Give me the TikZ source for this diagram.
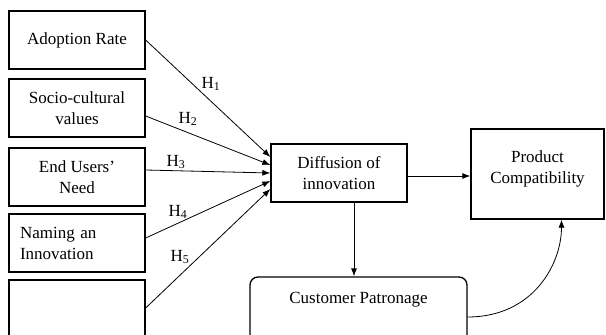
\documentclass[tikz,border=0pt]{standalone}
\usepackage{fontspec}
\setmainfont{Liberation Serif}
\usetikzlibrary{arrows.meta, calc}

\tikzset{
  box/.style={draw, line width=1.3pt, minimum width=136pt, minimum height=58pt, align=center, inner sep=2pt},
  link/.style={line width=0.8pt, -{Latex[length=8pt,width=6pt]}},
  hyp/.style={inner sep=0pt}
}

\begin{document}
\begin{tikzpicture}[x=1pt, y=-1pt, font=\fontsize{17}{21}\selectfont]
\useasboundingbox (0,0) rectangle (606,335);
\clip (0,0) rectangle (606,335);
% factors on the left
\node[box] (adopt) at (77,40) {Adoption Rate};
\node[box] (socio) at (77,108) {Socio-cultural\\values};
\node[box] (need) at (77,177) {End Users'\\Need};
\node[box, text width=114pt, align=left] (naming) at (77,243) {Naming an\\Innovation};
\node[box, minimum height=70pt] (blank) at (77,315) {};
% middle and right
\node[box] (diff) at (339,173) {Diffusion of\\innovation};
\node[box, minimum width=133pt, minimum height=90pt] (prod) at (537.5,174) {};
\node[align=center] (prodtxt) at (537.5,169) {Product\\Compatibility};
\node[box, rounded corners=8pt, minimum width=217pt, minimum height=80pt] (cust) at (358.5,317) {};
\node (custtxt) at (358.5,300) {Customer Patronage};
% hypotheses
\draw[link] (adopt.east) -- ($(diff.west)+(0,-16)$);
\draw[link] ($(socio.east)+(0,8)$) -- ($(diff.west)+(0,-8)$);
\draw[link] ($(need.east)+(0,-7)$) -- (diff.west);
\draw[link] ($(naming.east)+(0,-5)$) -- ($(diff.west)+(0,8)$);
\draw[link] ($(blank.east)+(0,-7)$) -- ($(diff.west)+(0,16)$);
\node[hyp] (h1) at (211,84) {H\textsubscript{1}};
\node[hyp] (h2) at (188,119) {H\textsubscript{2}};
\node[hyp] (h3) at (176,162) {H\textsubscript{3}};
\node[hyp] (h4) at (178,212) {H\textsubscript{4}};
\node[hyp] (h5) at (180,257) {H\textsubscript{5}};
% outcomes
\draw[link] ($(diff.east)+(0,3)$) coordinate (de) -- (de -| prod.west);
\draw[link] ($(diff.south)+(15,0)$) coordinate (ds) -- (ds |- cust.north);
\coordinate (pc) at ($(prod.south)+(24,0)$);
\draw[link] (cust.east) .. controls ($(cust.east)+(65,0)$) and ($(pc)+(0,45)$) .. (pc);
\end{tikzpicture}
\end{document}
